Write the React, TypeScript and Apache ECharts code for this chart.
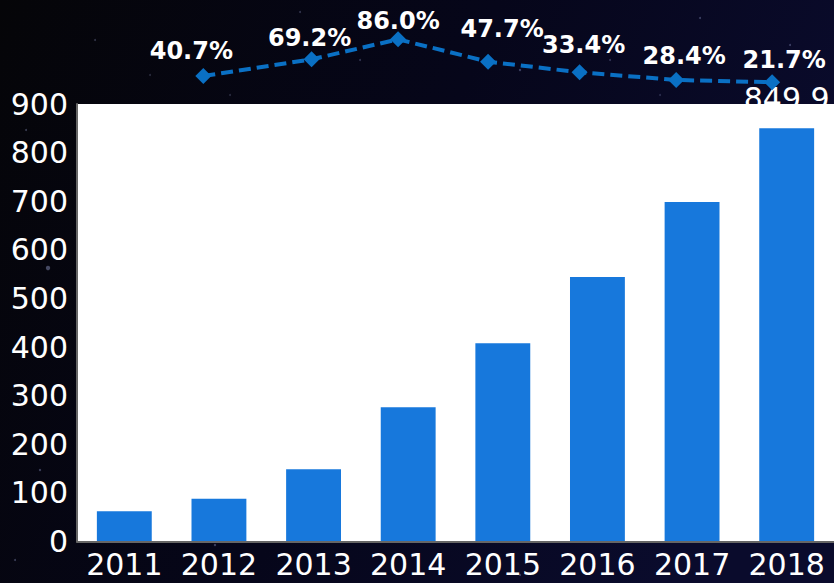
import React, { useEffect, useRef } from 'react';
import * as echarts from 'echarts';

// ---- data ----
const years = ['2011', '2012', '2013', '2014', '2015', '2016', '2017', '2018'];
const revenue = [62.3, 87.7, 148.4, 276.0, 407.7, 543.9, 698.4, 849.9];
const growthRates = [40.7, 69.2, 86.0, 47.7, 33.4, 28.4, 21.7];
// marker placement of the growth line (category units / band height %)
const growthX = [0.835, 1.979, 2.893, 3.844, 4.811, 5.832, 6.846];
const growthHeight = [26.9, 43.0, 62.2, 40.7, 30.5, 23.1, 20.9];
const yMin = 0;
const yMax = 900;
const yStep = 100;

// label nudges (style)
const growthLabelOffsets = [[-12, 0], [-2, 4], [0, 7], [14, -8], [4, -2], [8, 1], [12, 3]];

// decorative faint stars (background only)
const stars = [
  [48, 268, 2.2, 0.35], [26, 130, 1, 0.3], [95, 40, 1, 0.25], [300, 12, 1, 0.25], [520, 70, 1.2, 0.3],
  [700, 18, 1, 0.3], [790, 45, 1, 0.3], [610, 60, 1, 0.25], [230, 95, 1, 0.2], [20, 400, 1, 0.25],
  [40, 470, 1.2, 0.3], [15, 560, 1, 0.3], [215, 545, 1.2, 0.3], [520, 575, 1, 0.3], [760, 575, 1, 0.3],
  [360, 60, 1, 0.25], [150, 75, 1, 0.2], [660, 95, 1, 0.2],
];

const FONT = 'DejaVu Sans';

export default function App() {
  const ref = useRef<HTMLDivElement>(null);

  useEffect(() => {
    if (!ref.current) return;
    const chart = echarts.init(ref.current, undefined, { renderer: 'svg' });
    const last = revenue.length - 1;

    chart.setOption({
      animation: false,
      backgroundColor: {
        type: 'linear', x: 0, y: 0, x2: 1, y2: 0.3,
        colorStops: [
          { offset: 0, color: '#050508' },
          { offset: 0.55, color: '#06061a' },
          { offset: 1, color: '#0a0b2c' },
        ],
      },
      graphic: stars.map(([cx, cy, r, o]) => ({
        type: 'circle',
        z: -10,
        silent: true,
        shape: { cx, cy, r },
        style: { fill: `rgba(190,200,255,${o})` },
      })),
      grid: [
        {
          left: 77, right: 0, top: 104, bottom: 41.5,
          show: true, backgroundColor: '#ffffff', borderWidth: 0,
        },
        { left: 77, right: 0, top: 0, height: 104, show: false },
      ],
      xAxis: [
        {
          type: 'category',
          gridIndex: 0,
          data: years,
          z: 3,
          axisLine: { show: true, lineStyle: { color: '#666666', width: 2 } },
          axisTick: { show: false },
          axisLabel: { color: '#ffffff', fontSize: 30, fontFamily: FONT, margin: 8, interval: 0 },
        },
        {
          type: 'value', gridIndex: 1, min: -0.5, max: 7.5, show: false,
        },
      ],
      yAxis: [
        {
          type: 'value',
          gridIndex: 0,
          min: yMin, max: yMax, interval: yStep,
          z: 3,
          axisLine: { show: true, lineStyle: { color: '#666666', width: 2 } },
          axisTick: { show: false },
          splitLine: { show: false },
          axisLabel: { color: '#ffffff', fontSize: 30, fontFamily: FONT, margin: 9 },
        },
        { type: 'value', gridIndex: 1, min: 0, max: 100, show: false },
      ],
      series: [
        {
          // value label of the last bar, clipped by the top of the white plot area
          type: 'custom',
          xAxisIndex: 0, yAxisIndex: 0,
          z: 1,
          silent: true,
          data: [[last, revenue[last]]],
          renderItem: (params: any, api: any) => {
            const p = api.coord([api.value(0), api.value(1)]);
            const top = params.coordSys.y;
            return {
              type: 'group',
              clipPath: { type: 'rect', shape: { x: p[0] - 120, y: 0, width: 240, height: top } },
              children: [
                {
                  type: 'text',
                  style: {
                    text: String(api.value(1)),
                    x: p[0],
                    y: p[1] - 15,
                    textAlign: 'center',
                    textVerticalAlign: 'bottom',
                    fill: '#ffffff',
                    fontSize: 30,
                    fontFamily: FONT,
                  },
                },
              ],
            };
          },
        },
        {
          type: 'bar',
          xAxisIndex: 0, yAxisIndex: 0,
          z: 2,
          barWidth: '58%',
          itemStyle: { color: '#1778dc' },
          data: revenue,
        },
        {
          type: 'line',
          xAxisIndex: 1, yAxisIndex: 1,
          z: 4,
          symbol: 'diamond',
          symbolSize: 16,
          lineStyle: { color: '#0a70c4', width: 4, type: [12, 6] },
          itemStyle: { color: '#0a70c4' },
          data: growthRates.map((g, i) => ({
            value: [growthX[i], growthHeight[i]],
            label: {
              show: true,
              position: 'top',
              offset: growthLabelOffsets[i],
              color: '#ffffff',
              fontSize: 24,
              fontWeight: 'bold',
              fontFamily: FONT,
              formatter: () => `${g.toFixed(1)}%`,
            },
          })),
        },
      ],
    });

    return () => chart.dispose();
  }, []);

  return (
    <div
      ref={ref}
      style={{ position: 'fixed', left: 0, top: 0, width: 834, height: 583 }}
    />
  );
}
